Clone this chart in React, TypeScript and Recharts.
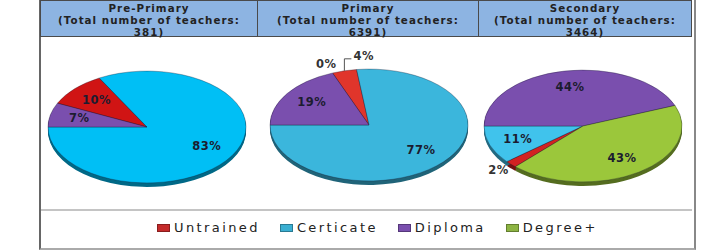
import { PieChart, Pie, Cell, Legend } from "recharts";

// teacher qualification shares (%) per level, order = categories
const categories = ["Untrained", "Certicate", "Diploma", "Degree+"];
const levels = ["Pre-Primary", "Primary", "Secondary"];
const totals = [381, 6391, 3464];
const prePrimary = [10, 83, 7, null];
const primary = [4, 77, 19, 0];
const secondary = [2, 11, 44, 43];

const palette = ["#D21A17", "#1EBEEC", "#7A4FAE", "#9BC73B"];
const legendColors = ["#C42A2A", "#3AAFD2", "#7A4FAE", "#8DB443"];

const FONT = "'DejaVu Sans', sans-serif";
const TILT = 0.565;
const RX = 99;

const pies = [
  { values: prePrimary, cx: 147, cy: 127, start: 154.8, cyan: "#00BFF5", red: "#D01414", callout: "" },
  { values: primary, cx: 369, cy: 125, start: 111.6, cyan: "#3BB6DC", red: "#E0352B", callout: "Untrained" },
  { values: secondary, cx: 583, cy: 126, start: 226.8, cyan: "#40C3EC", red: "#D22222", callout: "" },
];

const shade = (hex: string, f: number) => {
  const n = parseInt(hex.slice(1), 16);
  const r = Math.round(((n >> 16) & 255) * f);
  const g = Math.round(((n >> 8) & 255) * f);
  const b = Math.round((n & 255) * f);
  return `rgb(${r},${g},${b})`;
};

const RAD = Math.PI / 180;
const pt = (cx: number, cy: number, a: number, k = 1) => ({
  x: cx + RX * k * Math.cos(a * RAD),
  y: cy - RX * TILT * k * Math.sin(a * RAD),
});

const ellipsePath = (cx: number, cy: number, a0: number, a1: number) => {
  if (Math.abs(a0 - a1) < 0.01) return "";
  const p0 = pt(cx, cy, a0);
  const p1 = pt(cx, cy, a1);
  const large = Math.abs(a0 - a1) > 180 ? 1 : 0;
  const sweep = a1 < a0 ? 1 : 0;
  return `M${cx},${cy} L${p0.x},${p0.y} A${RX},${RX * TILT} 0 ${large} ${sweep} ${p1.x},${p1.y} Z`;
};

const TopSector = (props: any) => {
  const { cx, cy, startAngle, endAngle, fill } = props;
  const d = ellipsePath(cx, cy, startAngle, endAngle);
  if (!d) return null;
  return <path d={d} fill={fill} stroke="rgba(20,20,40,0.45)" strokeWidth={0.7} />;
};

const DepthSector = (props: any) => {
  const { cx, cy, startAngle, endAngle, fill } = props;
  const out = [];
  for (let t = 4; t >= 1; t--) {
    const d = ellipsePath(cx, cy + t, startAngle, endAngle);
    if (d) out.push(<path key={t} d={d} fill={shade(fill, 0.55)} stroke="none" />);
  }
  return <g>{out}</g>;
};

const makeLabel = (callout: string) => (props: any) => {
  const { cx, cy, midAngle, value, name } = props;
  if (value === null || value === undefined) return null;
  const text = `${value}%`;
  const style = { fontFamily: FONT, fontSize: 11.5, fontWeight: 700 as const, letterSpacing: 0.5 };
  if (name === callout) {
    const rim = pt(cx, cy, midAngle);
    const topY = rim.y - 12;
    return (
      <g>
        <polyline
          points={`${rim.x},${rim.y} ${rim.x},${topY} ${rim.x + 7},${topY}`}
          fill="none"
          stroke="#555"
          strokeWidth={1}
        />
        <text x={rim.x + 9} y={topY - 2} fill="#333" textAnchor="start" dominantBaseline="middle" style={style}>
          {text}
        </text>
      </g>
    );
  }
  const outside = value < 3;
  const p = pt(cx, cy, midAngle, outside ? 1.17 : 0.7);
  return (
    <text x={p.x} y={p.y} fill={outside ? "#333" : "#1C1C30"} textAnchor="middle" dominantBaseline="middle" style={style}>
      {text}
    </text>
  );
};

const LegendBox = () => (
  <div style={{ display: "flex", alignItems: "center", fontFamily: FONT, fontSize: 13, color: "#222", letterSpacing: 2.4 }}>
    {categories.map((c, i) => (
      <div key={c} style={{ display: "flex", alignItems: "center", marginRight: 20 }}>
        <span
          style={{
            display: "inline-block",
            width: 13,
            height: 8,
            background: legendColors[i],
            border: `1px solid ${shade(legendColors[i], 0.7)}`,
            boxSizing: "border-box",
            marginRight: 4,
          }}
        />
        <span>{c}</span>
      </div>
    ))}
  </div>
);

const headerCells = [
  { left: 40, width: 217 },
  { left: 257, width: 221 },
  { left: 478, width: 214 },
];

export default function App() {
  return (
    <div style={{ position: "absolute", left: 0, top: 0, width: 709, height: 252, background: "#fff", overflow: "hidden" }}>
      {/* frame */}
      <div style={{ position: "absolute", left: 39, top: 0, width: 653, height: 248, borderLeft: "2px solid #666", borderRight: "2px solid #888", borderBottom: "2px solid #aaa" }} />
      <div style={{ position: "absolute", left: 41, top: 209, width: 651, height: 0, borderTop: "2px solid #c4c4c4" }} />
      {/* header */}
      {levels.map((lv, i) => (
        <div
          key={lv}
          style={{
            position: "absolute",
            left: headerCells[i].left,
            top: 0,
            width: headerCells[i].width,
            height: 37,
            background: "#8DB4E2",
            borderLeft: "1px solid #4a4a4a",
            borderRight: i === 2 ? "1px solid #4a4a4a" : "none",
            borderBottom: "1px solid #4a4a4a",
            borderTop: "1px solid #4a4a4a",
            boxSizing: "border-box",
            textAlign: "center",
            fontFamily: FONT,
            fontWeight: 700,
            fontSize: 10.3,
            letterSpacing: 1.05,
            lineHeight: "12px",
            color: "#222",
            paddingTop: 1,
          }}
        >
          <div>{lv}</div>
          <div>(Total number of teachers:</div>
          <div>{totals[i]})</div>
        </div>
      ))}
      <div style={{ position: "absolute", left: 0, top: 0 }}>
        <PieChart width={709} height={252} margin={{ top: 0, right: 0, bottom: 0, left: 0 }}>
          {pies.map((p, pi) => {
            const data = categories
              .map((c, i) => ({ name: c, value: p.values[i], color: i === 0 ? p.red : i === 1 ? p.cyan : palette[i] }))
              .filter((d) => d.value !== null);
            return [
              <Pie
                key={`depth${pi}`}
                data={data}
                dataKey="value"
                nameKey="name"
                cx={p.cx}
                cy={p.cy}
                outerRadius={RX}
                startAngle={p.start}
                endAngle={p.start - 360}
                stroke="none"
                label={false}
                labelLine={false}
                isAnimationActive={false}
                shape={DepthSector}
                inactiveShape={DepthSector}
              >
                {data.map((d) => (
                  <Cell key={d.name} fill={d.color} />
                ))}
              </Pie>,
              <Pie
                key={`top${pi}`}
                data={data}
                dataKey="value"
                nameKey="name"
                cx={p.cx}
                cy={p.cy}
                outerRadius={RX}
                startAngle={p.start}
                endAngle={p.start - 360}
                label={makeLabel(p.callout)}
                labelLine={false}
                isAnimationActive={false}
                shape={TopSector}
                inactiveShape={TopSector}
              >
                {data.map((d) => (
                  <Cell key={d.name} fill={d.color} />
                ))}
              </Pie>,
            ];
          })}
          <Legend content={LegendBox} wrapperStyle={{ position: "absolute", left: 157, top: 220, width: 540 }} />
        </PieChart>
      </div>
    </div>
  );
}
